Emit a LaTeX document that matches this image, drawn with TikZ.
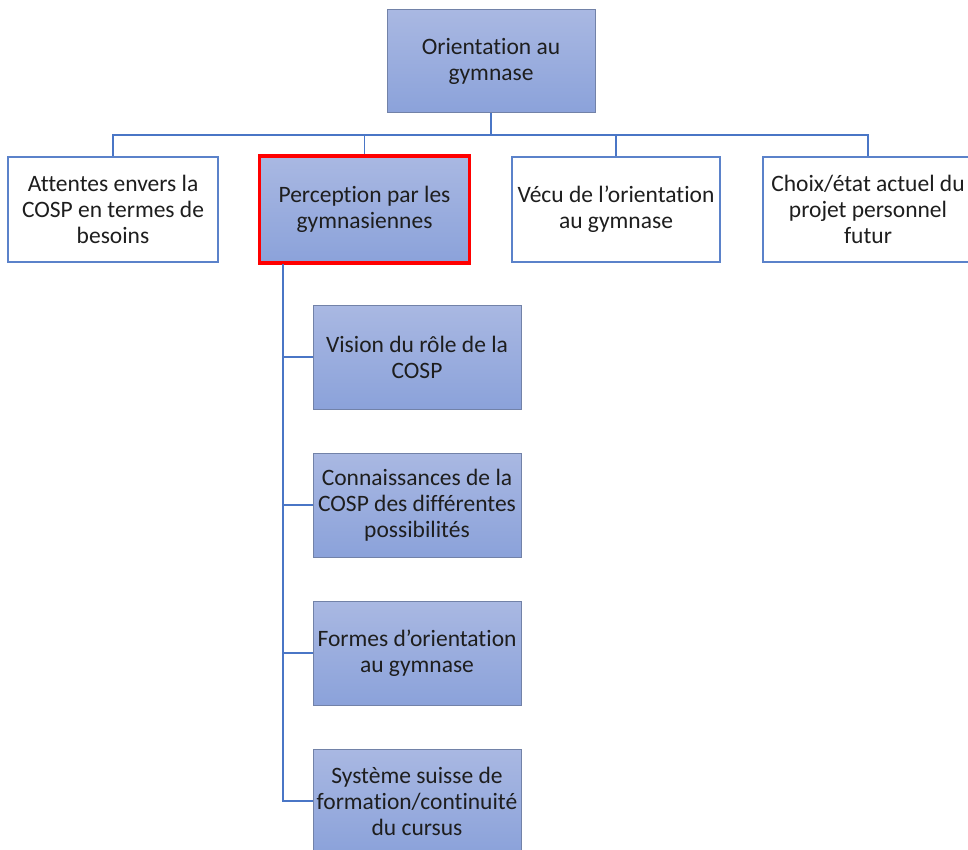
\documentclass[tikz,border=0pt]{standalone}
\usepackage{fontspec}
\setmainfont{Carlito}[Ligatures=NoCommon]
\usetikzlibrary{positioning}
\definecolor{linkblue}{HTML}{4A76C6}
\definecolor{boxedge}{HTML}{5B82CA}
\definecolor{filledge}{HTML}{7282A8}
\definecolor{filltop}{HTML}{A9B8E2}
\definecolor{fillbot}{HTML}{8BA2DA}
\definecolor{inktext}{HTML}{1E1E1E}
\begin{document}
\begin{tikzpicture}[x=1pt,y=-1pt,
  every node/.style={font=\fontsize{23.5}{26}\selectfont, text=inktext, align=center, inner sep=0pt},
  whitebox/.style={draw=boxedge, line width=1.2pt, fill=white, minimum width=210pt, minimum height=105pt},
  bluebox/.style={draw=filledge, line width=1pt, top color=filltop, bottom color=fillbot, minimum width=208pt, minimum height=104pt},
  redframe/.style={bluebox, draw=red, line width=3.5pt, minimum width=210pt, minimum height=107pt},
  link/.style={draw=linkblue, line width=1.1pt}
]
\useasboundingbox (0,0) rectangle (968,850);
\clip (0,0) rectangle (968,850);
\fill[white] (0,0) rectangle (968,850);

% top level
\node[bluebox, minimum height=103pt] (root) at (491,61.5) {Orientation au\\gymnase};

% first level
\node[whitebox] (attentes) at (113,209.5) {Attentes envers la\\COSP en termes de\\besoins};
\node[redframe] (perception) at (364.5,209.5) {Perception par les\\gymnasiennes};
\node[whitebox, minimum width=208pt] (vecu) at (616,209.5) {Vécu de l’orientation\\au gymnase};
\node[whitebox] (choix) at (868,209.5) {Choix/état actuel du\\projet personnel\\futur};

% second level under the highlighted box
\node[bluebox] (vision) at (417,357) {Vision du rôle de la\\COSP};
\node[bluebox] (connaissances) at (417,505) {Connaissances de la\\COSP des différentes\\possibilités};
\node[bluebox] (formes) at (417,653) {Formes d’orientation\\au gymnase};
\node[bluebox] (systeme) at (417,801) {Système suisse de\\formation/continuité\\du cursus};

% connectors
\coordinate (bar) at (491,135);
\draw[link] (root.south) -- (bar);
\draw[link] (attentes.north) |- (bar) -| (choix.north);
\draw[link] (perception.north) -- (perception.north |- bar);
\draw[link] (vecu.north) -- (vecu.north |- bar);

\coordinate (spine) at (283,264);
\draw[link] (spine) |- (systeme.west);
\draw[link] (spine |- vision.west) -- (vision.west);
\draw[link] (spine |- connaissances.west) -- (connaissances.west);
\draw[link] (spine |- formes.west) -- (formes.west);
\end{tikzpicture}
\end{document}
